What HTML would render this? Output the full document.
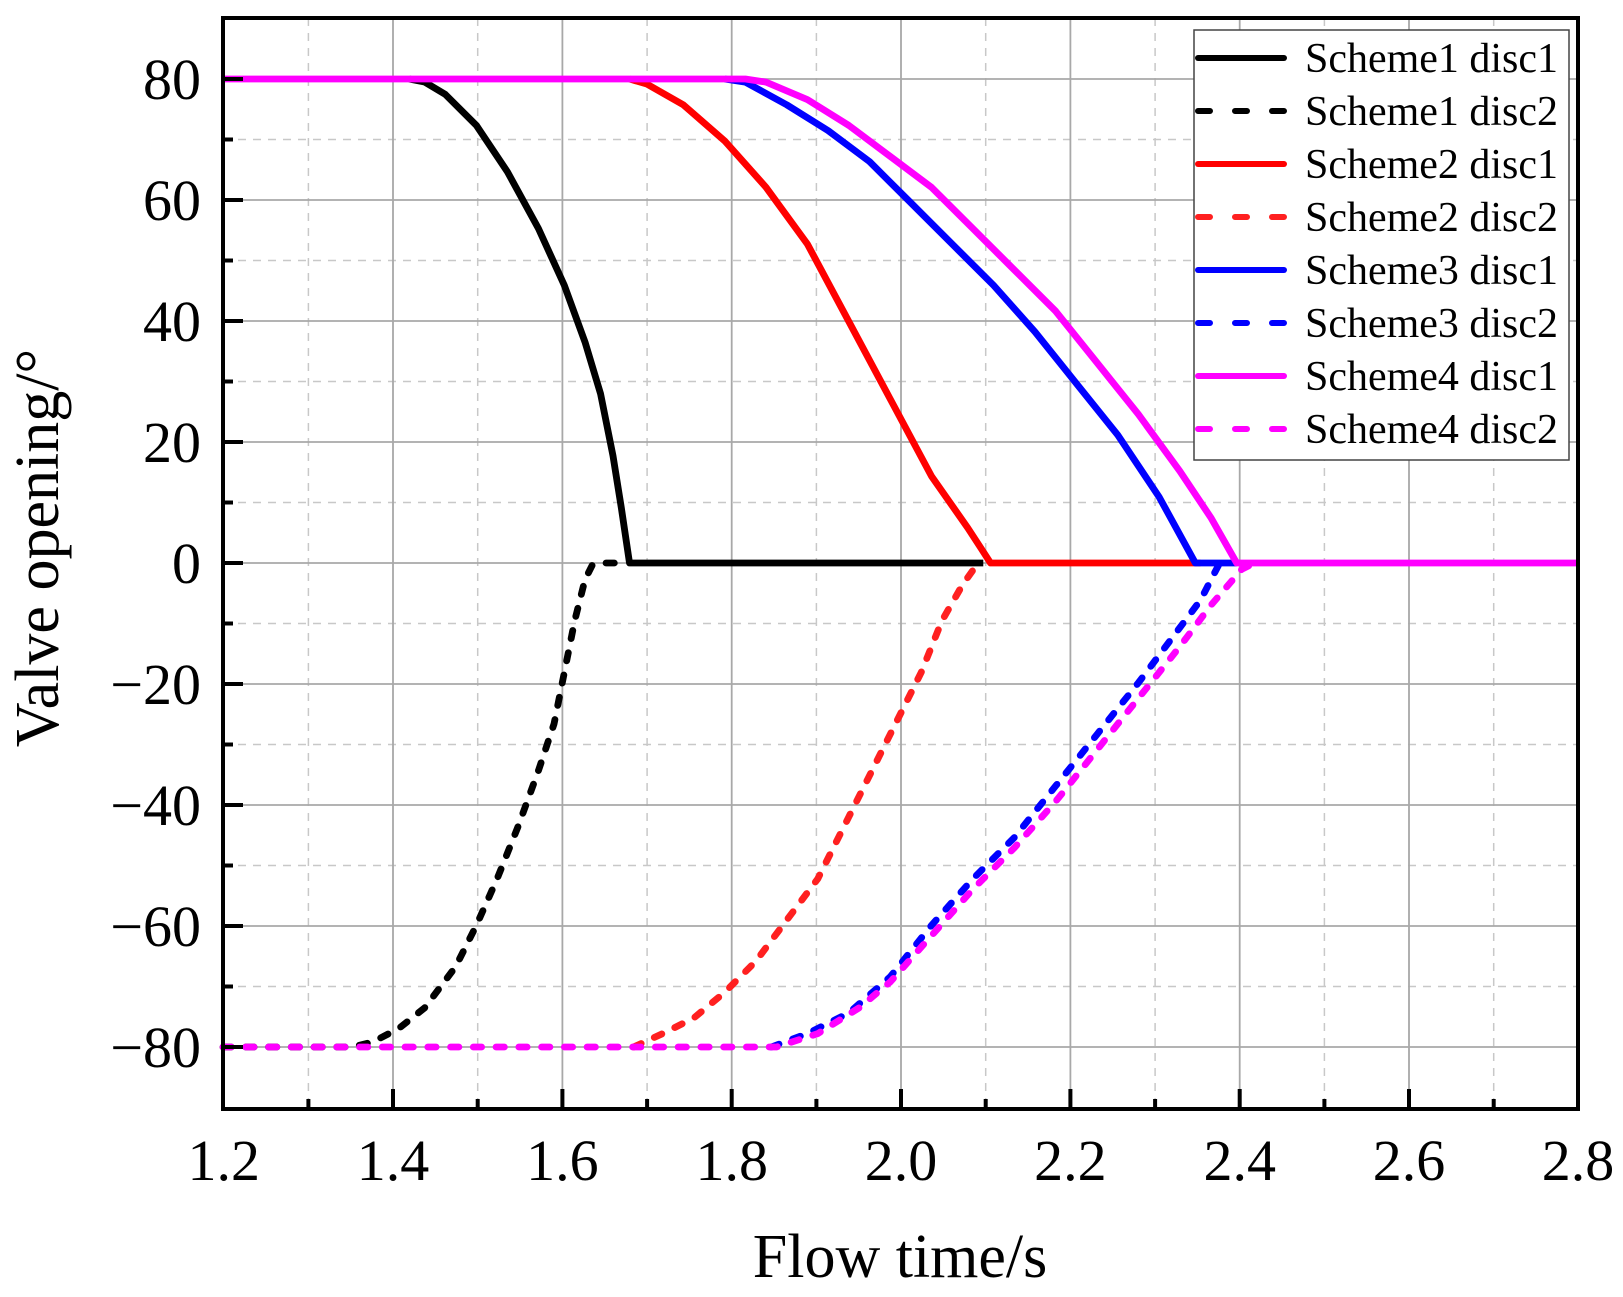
<!DOCTYPE html>
<html><head><meta charset="utf-8"><style>
html,body{margin:0;padding:0;background:#fff;}
svg{display:block;font-family:"Liberation Serif",serif;}
</style></head><body>
<svg width="1623" height="1297" viewBox="0 0 1623 1297" xmlns="http://www.w3.org/2000/svg">
<rect width="1623" height="1297" fill="#fff"/>
<g stroke="#c8c8c8" stroke-width="1.5" stroke-dasharray="8 7">
<line x1="308.4" y1="18" x2="308.4" y2="1109"/><line x1="477.7" y1="18" x2="477.7" y2="1109"/>
<line x1="647.1" y1="18" x2="647.1" y2="1109"/><line x1="816.4" y1="18" x2="816.4" y2="1109"/>
<line x1="985.7" y1="18" x2="985.7" y2="1109"/><line x1="1155.1" y1="18" x2="1155.1" y2="1109"/>
<line x1="1324.4" y1="18" x2="1324.4" y2="1109"/><line x1="1493.7" y1="18" x2="1493.7" y2="1109"/>
<line x1="223" y1="139.5" x2="1578" y2="139.5"/><line x1="223" y1="260.5" x2="1578" y2="260.5"/>
<line x1="223" y1="381.5" x2="1578" y2="381.5"/><line x1="223" y1="502.5" x2="1578" y2="502.5"/>
<line x1="223" y1="623.5" x2="1578" y2="623.5"/><line x1="223" y1="744.5" x2="1578" y2="744.5"/>
<line x1="223" y1="865.5" x2="1578" y2="865.5"/><line x1="223" y1="986.5" x2="1578" y2="986.5"/>
</g>
<g stroke="#a8a8a8" stroke-width="1.8">
<line x1="393" y1="18" x2="393" y2="1109"/><line x1="562.4" y1="18" x2="562.4" y2="1109"/>
<line x1="731.7" y1="18" x2="731.7" y2="1109"/><line x1="901" y1="18" x2="901" y2="1109"/>
<line x1="1070.4" y1="18" x2="1070.4" y2="1109"/><line x1="1239.7" y1="18" x2="1239.7" y2="1109"/>
<line x1="1409" y1="18" x2="1409" y2="1109"/>
<line x1="223" y1="79" x2="1578" y2="79"/><line x1="223" y1="200" x2="1578" y2="200"/>
<line x1="223" y1="321" x2="1578" y2="321"/><line x1="223" y1="442" x2="1578" y2="442"/>
<line x1="223" y1="563" x2="1578" y2="563"/><line x1="223" y1="684" x2="1578" y2="684"/>
<line x1="223" y1="805" x2="1578" y2="805"/><line x1="223" y1="926" x2="1578" y2="926"/>
<line x1="223" y1="1047" x2="1578" y2="1047"/>
</g>
<g transform="translate(223,79) scale(1.0344,1.032) translate(-215,-75)" fill="none" stroke-width="6.6" stroke-linejoin="round">
<polyline stroke="#000" points="395,75 410,78 430,90 460,120 490,165 520,220 545,275 565,330 580,380 592,440 600,490 608,544 950,544"/>
<polyline stroke="#000" stroke-dasharray="8 14" stroke-linecap="round" points="215,1013 340,1013 360,1008 385,995 410,975 440,935 460,895 480,850 500,800 520,745 535,700 545,650 555,600 565,560 572,546 580,544 600,544"/>
<polyline stroke="#ff0000" points="608,75 625,80 660,100 700,135 740,180 780,235 820,310 860,385 900,460 935,510 948,530 957,544 1160,544"/>
<polyline stroke="#ff2020" stroke-dasharray="8 14" stroke-linecap="round" points="612,1013 640,1000 670,985 700,960 730,930 760,890 790,850 820,790 845,740 870,690 890,650 910,600 930,565 945,544"/>
<polyline stroke="#0000ff" points="700,75 720,78 760,100 800,125 840,155 880,195 920,235 960,275 1000,320 1040,370 1080,420 1120,480 1155,544 1195,544"/>
<polyline stroke="#0000ff" stroke-dasharray="8 14" stroke-linecap="round" points="745,1013 780,1000 820,980 860,945 900,895 940,850 980,810 1020,760 1060,710 1100,660 1130,620 1160,580 1178,545"/>
<polyline stroke="#ff00ff" points="215,75 720,75 740,78 780,95 820,120 860,150 900,180 940,220 980,260 1020,300 1060,350 1100,400 1140,455 1170,500 1195,544 1525,544"/>
<polyline stroke="#ff00ff" stroke-dasharray="8 14" stroke-linecap="round" points="215,1013 750,1013 790,1000 830,975 860,950 900,905 940,860 980,820 1020,775 1060,725 1100,675 1140,625 1170,585 1200,550 1212,544"/>
</g>
<g stroke="#000" stroke-width="4">
<line x1="393" y1="1109" x2="393" y2="1089"/><line x1="562.4" y1="1109" x2="562.4" y2="1089"/>
<line x1="731.7" y1="1109" x2="731.7" y2="1089"/><line x1="901" y1="1109" x2="901" y2="1089"/>
<line x1="1070.4" y1="1109" x2="1070.4" y2="1089"/><line x1="1239.7" y1="1109" x2="1239.7" y2="1089"/>
<line x1="1409" y1="1109" x2="1409" y2="1089"/>
<line x1="308.4" y1="1109" x2="308.4" y2="1099"/><line x1="477.7" y1="1109" x2="477.7" y2="1099"/>
<line x1="647.1" y1="1109" x2="647.1" y2="1099"/><line x1="816.4" y1="1109" x2="816.4" y2="1099"/>
<line x1="985.7" y1="1109" x2="985.7" y2="1099"/><line x1="1155.1" y1="1109" x2="1155.1" y2="1099"/>
<line x1="1324.4" y1="1109" x2="1324.4" y2="1099"/><line x1="1493.7" y1="1109" x2="1493.7" y2="1099"/>
<line x1="223" y1="79" x2="243" y2="79"/><line x1="223" y1="200" x2="243" y2="200"/>
<line x1="223" y1="321" x2="243" y2="321"/><line x1="223" y1="442" x2="243" y2="442"/>
<line x1="223" y1="563" x2="243" y2="563"/><line x1="223" y1="684" x2="243" y2="684"/>
<line x1="223" y1="805" x2="243" y2="805"/><line x1="223" y1="926" x2="243" y2="926"/>
<line x1="223" y1="1047" x2="243" y2="1047"/>
<line x1="223" y1="139.5" x2="233" y2="139.5"/><line x1="223" y1="260.5" x2="233" y2="260.5"/>
<line x1="223" y1="381.5" x2="233" y2="381.5"/><line x1="223" y1="502.5" x2="233" y2="502.5"/>
<line x1="223" y1="623.5" x2="233" y2="623.5"/><line x1="223" y1="744.5" x2="233" y2="744.5"/>
<line x1="223" y1="865.5" x2="233" y2="865.5"/><line x1="223" y1="986.5" x2="233" y2="986.5"/>
</g>
<rect x="223" y="18" width="1355" height="1091" fill="none" stroke="#000" stroke-width="4"/>
<rect x="1194" y="30" width="375" height="430" fill="#fff" stroke="#444" stroke-width="1.5"/>
<g stroke-width="6" stroke-linecap="round">
<line x1="1198" y1="58" x2="1284" y2="58" stroke="#000"/>
<line x1="1198" y1="111" x2="1284" y2="111" stroke="#000" stroke-dasharray="12 25"/>
<line x1="1198" y1="164" x2="1284" y2="164" stroke="#ff0000"/>
<line x1="1198" y1="217" x2="1284" y2="217" stroke="#ff2020" stroke-dasharray="12 25"/>
<line x1="1198" y1="270" x2="1284" y2="270" stroke="#0000ff"/>
<line x1="1198" y1="323" x2="1284" y2="323" stroke="#0000ff" stroke-dasharray="12 25"/>
<line x1="1198" y1="376" x2="1284" y2="376" stroke="#ff00ff"/>
<line x1="1198" y1="429" x2="1284" y2="429" stroke="#ff00ff" stroke-dasharray="12 25"/>
</g>
<g font-size="42" fill="#000">
<text x="1305" y="72" textLength="253" lengthAdjust="spacingAndGlyphs">Scheme1 disc1</text>
<text x="1305" y="125" textLength="253" lengthAdjust="spacingAndGlyphs">Scheme1 disc2</text>
<text x="1305" y="178" textLength="253" lengthAdjust="spacingAndGlyphs">Scheme2 disc1</text>
<text x="1305" y="231" textLength="253" lengthAdjust="spacingAndGlyphs">Scheme2 disc2</text>
<text x="1305" y="284" textLength="253" lengthAdjust="spacingAndGlyphs">Scheme3 disc1</text>
<text x="1305" y="337" textLength="253" lengthAdjust="spacingAndGlyphs">Scheme3 disc2</text>
<text x="1305" y="390" textLength="253" lengthAdjust="spacingAndGlyphs">Scheme4 disc1</text>
<text x="1305" y="443" textLength="253" lengthAdjust="spacingAndGlyphs">Scheme4 disc2</text>
</g>
<g font-size="58" text-anchor="end" fill="#000">
<text x="201" y="99">80</text><text x="201" y="220">60</text><text x="201" y="341">40</text>
<text x="201" y="462">20</text><text x="201" y="583">0</text><text x="201" y="704">−20</text>
<text x="201" y="825">−40</text><text x="201" y="946">−60</text><text x="201" y="1067">−80</text>
</g>
<g font-size="58" text-anchor="middle" fill="#000">
<text x="223.7" y="1180">1.2</text><text x="393" y="1180">1.4</text><text x="562.4" y="1180">1.6</text>
<text x="731.7" y="1180">1.8</text><text x="901" y="1180">2.0</text><text x="1070.4" y="1180">2.2</text>
<text x="1239.7" y="1180">2.4</text><text x="1409" y="1180">2.6</text><text x="1578" y="1180">2.8</text>
</g>
<text x="900" y="1277" font-size="62" text-anchor="middle">Flow time/s</text>
<text transform="translate(58,548) rotate(-90)" font-size="62" text-anchor="middle">Valve opening/°</text>
</svg>
</body></html>
